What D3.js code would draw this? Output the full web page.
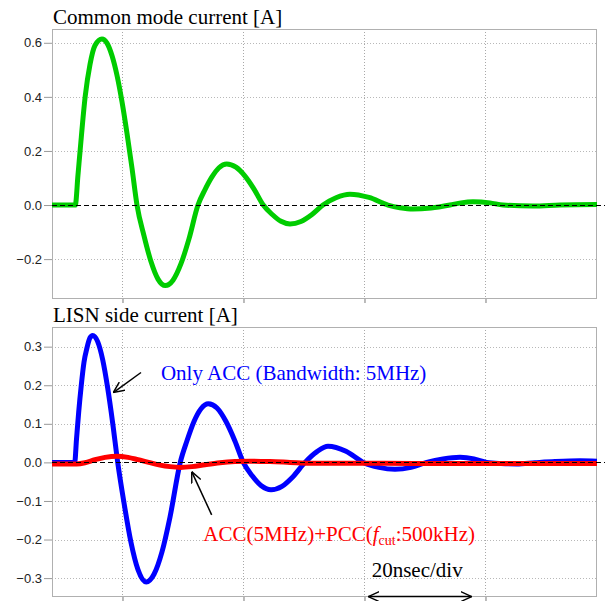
<!DOCTYPE html>
<html>
<head>
<meta charset="utf-8">
<script src="https://cdn.jsdelivr.net/npm/d3@7"></script>
<style>
  body { margin: 0; background: #fff; }
  svg { display: block; }
  .title { font-family: "Liberation Serif", "Times New Roman", serif; font-size: 21px; fill: #000; }
  .tick text { font-family: "Liberation Sans", Arial, sans-serif; font-size: 13px; fill: #222; }
  .note { font-family: "Liberation Serif", "Times New Roman", serif; font-size: 21px; }
</style>
</head>
<body>
<svg id="chart" width="608" height="601"></svg>
<script>
// time axis in ns, 20 ns per division
const xTicks = [20, 40, 60, 80];
const xDomain = [8.35, 98.43];

// common mode current [A]
const cmTime = [8.35, 12.2, 12.64, 13.02, 13.85, 14.63, 15.45, 16.61, 17.44, 18.26, 19.09, 19.92, 20.74, 21.57, 22.4, 23.55, 24.71, 25.87, 27.07, 28.35, 29.67, 30.99, 32.48, 33.64, 34.79, 35.95, 37.22, 38.76, 40.25, 41.74, 43.27, 44.71, 46.2, 47.69, 49.5, 51.32, 53.14, 55.29, 57.6, 60.74, 63.88, 65.87, 68.02, 71.0, 74.13, 75.95, 77.93, 80.74, 82.89, 87.85, 92.31, 98.43];
const cmValue = [0, 0, 0.11, 0.207, 0.404, 0.52, 0.59, 0.614, 0.599, 0.553, 0.48, 0.382, 0.266, 0.137, 0, -0.113, -0.209, -0.274, -0.298, -0.278, -0.217, -0.125, 0, 0.057, 0.104, 0.138, 0.152, 0.14, 0.107, 0.059, 0, -0.034, -0.06, -0.07, -0.061, -0.035, 0, 0.027, 0.04, 0.028, 0, -0.01, -0.015, -0.011, 0, 0.008, 0.012, 0.008, 0, -0.004, 0, 0.002];

// LISN side current [A], only ACC
const accTime = [8.35, 12.1, 12.4, 12.76, 13.19, 13.64, 14.13, 14.63, 15.07, 15.9, 16.73, 17.55, 18.38, 19.21, 20.25, 21.4, 22.56, 23.93, 25.21, 26.53, 27.85, 29.55, 30.66, 31.82, 32.98, 34.18, 35.62, 37.11, 38.6, 39.97, 41.4, 42.89, 44.55, 46.36, 48.18, 50.17, 52.15, 53.97, 56.94, 59.8, 62.4, 65.04, 67.69, 70.28, 72.98, 75.79, 78.1, 80.2, 82.56, 85.16, 88.18, 91.49, 95.62, 98.43];
const accValue = [0, 0, 0.06, 0.13, 0.2, 0.26, 0.297, 0.323, 0.329, 0.313, 0.266, 0.193, 0.102, 0, -0.105, -0.207, -0.278, -0.31, -0.29, -0.232, -0.142, 0, 0.056, 0.106, 0.139, 0.152, 0.141, 0.106, 0.055, 0, -0.034, -0.06, -0.071, -0.062, -0.037, 0, 0.028, 0.042, 0.029, 0, -0.013, -0.018, -0.013, 0, 0.009, 0.013, 0.009, 0, -0.003, -0.004, -0.001, 0.002, 0.004, 0.003];

// LISN side current [A], ACC + PCC
const pccTime = [8.35, 12.43, 13.8, 15.45, 17.11, 19.09, 20.91, 22.56, 24.33, 26.2, 27.85, 29.55, 31.49, 33.64, 36.12, 38.6, 41.07, 44.38, 47.69, 50.99, 57.6, 69.17, 98.43];
const pccValue = [-0.004, -0.004, -0.001, 0.007, 0.013, 0.016, 0.013, 0.007, 0, -0.007, -0.011, -0.013, -0.011, -0.006, -0.001, 0.002, 0.003, 0.002, 0, -0.002, -0.002, -0.003, -0.003];

const topTicks = [-0.2, 0, 0.2, 0.4, 0.6];
const bottomTicks = [-0.3, -0.2, -0.1, 0, 0.1, 0.2, 0.3];

const svg = d3.select('#chart');
const left = 52, right = 597;

const x = d3.scaleLinear().domain(xDomain).range([left, right]);
const yTop = d3.scaleLinear().domain([-0.3475, 0.651]).range([299, 29]);
const yBot = d3.scaleLinear().domain([-0.349, 0.351]).range([597, 327]);

const defs = svg.append('defs');
defs.append('marker')
    .attr('id', 'head')
    .attr('viewBox', '0 0 10 10')
    .attr('refX', 10).attr('refY', 5)
    .attr('markerWidth', 11).attr('markerHeight', 11)
    .attr('markerUnits', 'userSpaceOnUse')
    .attr('orient', 'auto-start-reverse')
  .append('path')
    .attr('d', 'M0,0.5 L10,5 L0,9.5')
    .attr('fill', 'none')
    .attr('stroke', '#000')
    .attr('stroke-width', 1.3);

function panel(id, y, ticks, title) {
    const top = y.range()[1], bottom = y.range()[0];
    const g = svg.append('g');

    defs.append('clipPath').attr('id', id)
      .append('rect')
        .attr('x', left).attr('y', top)
        .attr('width', right - left).attr('height', bottom - top);

    // grid
    g.selectAll('.hgrid').data(ticks.filter(d => d !== 0)).enter()
      .append('line')
        .attr('x1', left).attr('x2', right)
        .attr('y1', d => Math.round(y(d)) + 0.5).attr('y2', d => Math.round(y(d)) + 0.5)
        .attr('stroke', '#b8b8b8').attr('stroke-dasharray', '1,2');
    g.selectAll('.vgrid').data(xTicks).enter()
      .append('line')
        .attr('x1', d => Math.round(x(d)) + 0.5).attr('x2', d => Math.round(x(d)) + 0.5)
        .attr('y1', top).attr('y2', bottom)
        .attr('stroke', '#a8a8a8').attr('stroke-dasharray', '1,2');

    // frame
    g.append('rect')
        .attr('x', left + 0.5).attr('y', top + 0.5)
        .attr('width', right - left - 1).attr('height', bottom - top - 1)
        .attr('fill', 'none').attr('stroke', '#b0b0b0');

    // y axis
    const yAxis = d3.axisLeft(y).tickValues(ticks).tickSize(8).tickPadding(2).tickFormat(d3.format('.1f'));
    const ax = g.append('g').attr('transform', `translate(${left},0)`).call(yAxis);
    ax.select('.domain').remove();
    ax.selectAll('.tick line').attr('stroke', '#999');

    // x ticks below frame
    const xAxis = d3.axisBottom(x).tickValues(xTicks).tickSize(4).tickFormat('');
    const bx = g.append('g').attr('transform', `translate(0,${bottom})`).call(xAxis);
    bx.select('.domain').remove();
    bx.selectAll('.tick line').attr('stroke', '#777');

    svg.append('text')
        .attr('class', 'title')
        .attr('x', left + 1).attr('y', top - 5)
        .text(title);

    return g;
}

const gTop = panel('clipTop', yTop, topTicks, 'Common mode current [A]');
const gBot = panel('clipBot', yBot, bottomTicks, 'LISN side current [A]');

function zeroLine(g, y) {
    g.append('line')
        .attr('x1', left).attr('x2', 605)
        .attr('y1', Math.round(y(0)) + 0.5).attr('y2', Math.round(y(0)) + 0.5)
        .attr('stroke', '#000').attr('stroke-dasharray', '5,3');
}

function trace(g, clip, y, t, v, color) {
    const line = d3.line()
        .x((d, i) => x(t[i]))
        .y(d => y(d))
        .curve(d3.curveMonotoneX);
    g.append('path')
        .datum(v)
        .attr('clip-path', `url(#${clip})`)
        .attr('d', line)
        .attr('fill', 'none')
        .attr('stroke', color)
        .attr('stroke-width', 5)
        .attr('stroke-linejoin', 'round');
}

trace(gTop, 'clipTop', yTop, cmTime, cmValue, '#00cc00');
zeroLine(gTop, yTop);

trace(gBot, 'clipBot', yBot, accTime, accValue, '#0000ff');
trace(gBot, 'clipBot', yBot, pccTime, pccValue, '#ff0000');
zeroLine(gBot, yBot);

// annotations
const notes = svg.append('g');
notes.append('line')
    .attr('x1', x(23.06)).attr('y1', yBot(0.233))
    .attr('x2', x(18.48)).attr('y2', yBot(0.181))
    .attr('stroke', '#000').attr('stroke-width', 1.5)
    .attr('marker-end', 'url(#head)');
notes.append('text')
    .attr('class', 'note')
    .attr('font-size', '21.5px')
    .attr('x', x(26.36)).attr('y', yBot(0.214))
    .attr('fill', '#0000ff')
    .text('Only ACC (Bandwidth: 5MHz)');

notes.append('line')
    .attr('x1', x(34.74)).attr('y1', yBot(-0.136))
    .attr('x2', x(31.44)).attr('y2', yBot(-0.024))
    .attr('stroke', '#000').attr('stroke-width', 1.5)
    .attr('marker-end', 'url(#head)');
const red = notes.append('text')
    .attr('class', 'note')
    .attr('x', x(33.36)).attr('y', yBot(-0.203))
    .attr('fill', '#ff0000');
red.append('tspan').text('ACC(5MHz)+PCC(');
red.append('tspan').attr('font-style', 'italic').text('f');
red.append('tspan').attr('font-size', '14px').attr('dy', 4).text('cut');
red.append('tspan').attr('dy', -4).text(':500kHz)');

notes.append('text')
    .attr('class', 'note')
    .attr('x', x(61.19)).attr('y', yBot(-0.297))
    .attr('fill', '#000')
    .text('20nsec/div');
notes.append('line')
    .attr('x1', x(60.63)).attr('x2', x(77.72))
    .attr('y1', yBot(-0.348)).attr('y2', yBot(-0.348))
    .attr('stroke', '#000').attr('stroke-width', 1.5)
    .attr('marker-start', 'url(#head)')
    .attr('marker-end', 'url(#head)');
</script>
</body>
</html>
